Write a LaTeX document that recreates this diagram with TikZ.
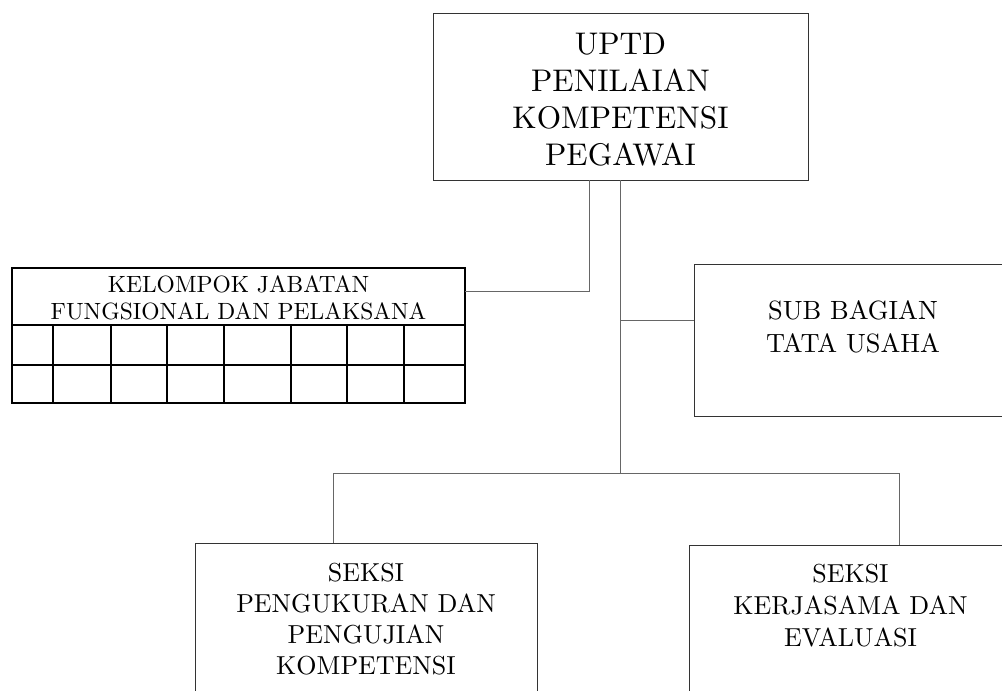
\documentclass[tikz,border=0pt]{standalone}
\usepackage{fontspec}
\setmainfont{lmroman10-regular.otf}
\begin{document}
\begin{tikzpicture}[x=1pt,y=-1pt,
  box/.style={draw=black!80,line width=1pt,inner sep=0pt,outer sep=0pt},
  gridbox/.style={draw=black,line width=1.5pt,inner sep=0pt,outer sep=0pt},
  conn/.style={draw=black!60,line width=1pt},
  gridline/.style={draw=black,line width=1.5pt},
  txt/.style={align=center,inner sep=0pt,outer sep=0pt,anchor=north}]
\clip (0,0) rectangle (1002,691);
\fill[white] (0,0) rectangle (1002,691);
% boxes
\node[box,minimum width=375pt,minimum height=167pt] (top) at (620.5,96.5) {};
\node[gridbox,minimum width=453pt,minimum height=135pt] (kel) at (238.5,335.5) {};
\node[box,minimum width=320pt,minimum height=152pt] (sub) at (854,340) {};
\node[box,minimum width=342pt,minimum height=180pt] (sekL) at (366,633) {};
\node[box,minimum width=326pt,minimum height=180pt] (sekR) at (852,635) {};
% grid inside kelompok
\draw[gridline] (kel.west |- 0,325) -- (kel.east |- 0,325);
\draw[gridline] (kel.west |- 0,365) -- (kel.east |- 0,365);
\foreach \cx in {53,111,167,224,291,347,404}
  \draw[gridline] (\cx,325) -- (\cx,403);
% texts
\node[txt,font=\fontsize{31.3}{37}\selectfont] (ttop) at (620.5,33.5) {UPTD\\PENILAIAN\\KOMPETENSI\\PEGAWAI};
\node[txt,font=\fontsize{23.5}{27.5}\selectfont] (tkel) at (238.5,275.5) {KELOMPOK JABATAN\\FUNGSIONAL DAN PELAKSANA};
\node[txt,font=\fontsize{26.4}{33}\selectfont] (tsub) at (853,300.5) {SUB BAGIAN\\TATA USAHA};
\node[txt,font=\fontsize{26}{31}\selectfont] (tsekL) at (366,563.5) {SEKSI\\PENGUKURAN DAN\\PENGUJIAN\\KOMPETENSI};
\node[txt,font=\fontsize{26}{32}\selectfont] (tsekR) at (850.5,564.5) {SEKSI\\KERJASAMA DAN\\EVALUASI};
% connectors
\coordinate (kx) at (589,291);
\coordinate (sj) at (620.5,320);
\coordinate (bl) at (333,473);
\coordinate (br) at (899,473);
\draw[conn] (top.south -| kx) -- (kx) -- (kx -| kel.east);
\draw[conn] (top.south) -- (top.south |- bl);
\draw[conn] (sj) -- (sj -| sub.west);
\draw[conn] (bl) -- (br);
\draw[conn] (bl) -- (bl |- sekL.north);
\draw[conn] (br) -- (br |- sekR.north);
\end{tikzpicture}
\end{document}
